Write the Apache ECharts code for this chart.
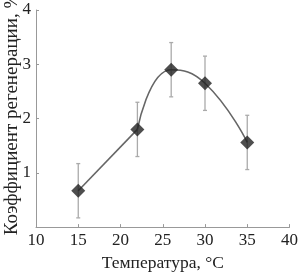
<!DOCTYPE html>
<html><head><meta charset="utf-8">
<script src="https://cdn.jsdelivr.net/npm/echarts@6/dist/echarts.min.js"></script>
<style>html,body{margin:0;padding:0;background:#fff}#c{width:301px;height:277px}</style>
</head><body><div id="c"></div>
<script>
const temps = [15, 22, 26, 30, 35];
const values = [0.67, 1.8, 2.9, 2.65, 1.56];
const errors = [0.5, 0.5, 0.5, 0.5, 0.5];
const xTicks = [10, 15, 20, 25, 30, 35, 40];
const yTicks = [1, 2, 3, 4];
const yTitle = 'Коэффициент регенерации, %';
const xTitle = 'Температура, °C';

const pts = temps.map((t, i) => [t, values[i]]);
const errData = temps.map((t, i) => [t, values[i] - errors[i], values[i] + errors[i]]);
const font = 'Liberation Serif';
const chart = echarts.init(document.getElementById('c'), null, {renderer: 'canvas'});
chart.setOption({
  animation: false,
  grid: {left: 36, right: 8, top: 10, bottom: 46},
  graphic: [{
    type: 'text', x: 12, y: 114, rotation: Math.PI / 2,
    style: {text: yTitle, fontFamily: font, fontSize: 19, fill: '#222',
      align: 'center', verticalAlign: 'middle'}
  }],
  xAxis: {
    type: 'value', min: 10, max: 40, interval: 5,
    name: xTitle, nameLocation: 'middle', nameGap: 25,
    nameTextStyle: {fontFamily: font, fontSize: 17.5, color: '#222'},
    axisLine: {lineStyle: {color: '#999'}},
    axisTick: {inside: true, length: 3, lineStyle: {color: '#999'}},
    axisLabel: {fontFamily: font, fontSize: 17, color: '#222', margin: 5,
      formatter: v => xTicks.includes(v) ? String(v) : ''},
    splitLine: {show: false}
  },
  yAxis: {
    type: 'value', min: 0, max: 4, interval: 1,
    axisLine: {show: true, lineStyle: {color: '#999'}},
    axisTick: {show: true, inside: true, length: 3, lineStyle: {color: '#999'}},
    axisLabel: {fontFamily: font, fontSize: 17, color: '#222', margin: 5,
      formatter: v => yTicks.includes(v) ? String(v) : ''},
    splitLine: {show: false}
  },
  series: [
    {
      type: 'custom',
      data: errData,
      z: 1,
      renderItem: (params, api) => {
        const x = api.value(0);
        const lo = api.coord([x, api.value(1)]);
        const hi = api.coord([x, api.value(2)]);
        const c = 2;
        const st = {stroke: '#aaa', lineWidth: 1.3};
        return {type: 'group', children: [
          {type: 'line', shape: {x1: lo[0], y1: lo[1], x2: hi[0], y2: hi[1]}, style: st},
          {type: 'line', shape: {x1: lo[0]-c, y1: lo[1], x2: lo[0]+c, y2: lo[1]}, style: st},
          {type: 'line', shape: {x1: hi[0]-c, y1: hi[1], x2: hi[0]+c, y2: hi[1]}, style: st}
        ]};
      }
    },
    {
      type: 'line', data: pts.slice(0, 2), smooth: false, z: 2,
      symbol: 'none', lineStyle: {color: '#666', width: 1.6}
    },
    {
      type: 'line', data: pts.slice(1), smooth: 0.5, z: 2,
      symbol: 'none', lineStyle: {color: '#666', width: 1.6}
    },
    {
      type: 'scatter', data: pts, z: 3,
      symbol: 'diamond', symbolSize: [14, 14],
      itemStyle: {color: '#222'}
    }
  ]
});
</script></body></html>
